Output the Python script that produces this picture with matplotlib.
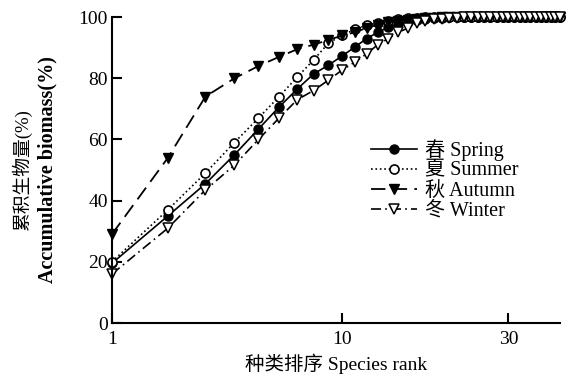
import matplotlib
matplotlib.use("Agg")
import matplotlib.pyplot as plt
import numpy as np

plt.rcParams['font.family'] = ['Liberation Serif', 'Noto Sans CJK SC']

ranks = list(range(1, 41))

spring = [19.5, 35, 45.5, 55, 63.4, 70.6, 76.5, 81.4, 84.3, 87.3,
          90.2, 93, 95, 96.7, 97.8, 98.5, 99, 99.4, 99.6, 99.8,
          99.9, 100, 100, 100, 100, 100, 100, 100, 100, 100,
          100, 100, 100, 100, 100, 100, 100, 100, 100, 100]
summer = [20, 37, 49, 59, 67, 74, 80.4, 86, 91.5, 94,
          96, 97.3, 98.2, 98.8, 99.3, 99.6, 99.8, 99.9, 100, 100,
          100, 100, 100, 100, 100, 100, 100, 100, 100, 100,
          100, 100, 100, 100, 100, 100, 100, 100, 100, 100]
autumn = [29, 54, 74, 80, 84, 87, 89.5, 91, 92.5, 94,
          95, 96.5, 97.5, 98.3, 98.8, 99.2, 99.5, 99.7, 99.8, 99.9,
          100, 100, 100, 100, 100, 100, 100, 100, 100, 100,
          100, 100, 100, 100, 100, 100, 100, 100, 100, 100]
winter = [16, 31, 43.5, 51.6, 60, 67, 73, 76, 79.4, 82.7,
          85.3, 88, 91, 93, 95, 96.4, 98, 98.7, 99.3, 99.5,
          99.7, 99.8, 99.9, 100, 100, 100, 100, 100, 100, 100,
          100, 100, 100, 100, 100, 100, 100, 100, 100, 100]

labels = ['春 Spring', '夏 Summer', '秋 Autumn', '冬 Winter']
xticks = [1, 10, 30]
yticks = [0, 20, 40, 60, 80, 100]

fig = plt.figure(figsize=(5.68, 3.80), dpi=100)
ax = fig.add_axes([0.197, 0.150, 0.789, 0.805])

# x axis is drawn on a fourth-root scale
ax.set_xscale('function', functions=(lambda x: np.power(np.clip(x, 0, None), 0.25),
                                     lambda x: np.power(x, 4)))

ms = 6.5
ax.plot(ranks, spring, '-', color='black', lw=1.2, marker='o', ms=ms,
        mfc='black', mec='black', label=labels[0], clip_on=False)
ax.plot(ranks, summer, ':', color='black', lw=1.2, marker='o', ms=ms,
        mfc='white', mec='black', mew=1.2, label=labels[1], clip_on=False)
ax.plot(ranks, autumn, color='black', lw=1.3, dashes=(8, 4), marker='v', ms=ms + 0.5,
        mfc='black', mec='black', label=labels[2], clip_on=False)
ax.plot(ranks, winter, color='black', lw=1.2, dashes=(6, 2.5, 1, 2.5), marker='v', ms=ms,
        mfc='white', mec='black', mew=1.1, label=labels[3], clip_on=False)

ax.set_xlim(1, 40)
ax.set_ylim(0, 100)
ax.set_xticks(xticks)
ax.set_xticklabels([str(t) for t in xticks])
ax.set_yticks(yticks)
ax.minorticks_off()
ax.tick_params(direction='in', length=7, width=1.5, labelsize=14, pad=3)
ax.tick_params(axis='x', pad=6)

for s in ['top', 'right']:
    ax.spines[s].set_visible(False)
for s in ['left', 'bottom']:
    ax.spines[s].set_linewidth(1.5)

ax.set_xlabel('种类排序 Species rank', fontsize=14, labelpad=4)
fig.text(0.038, 0.553, '累积生物量(%)', rotation=90, fontsize=13.5, ha='center', va='center')
fig.text(0.083, 0.553, 'Accumulative biomass(%)', rotation=90, fontsize=14.5,
         fontweight='bold', ha='center', va='center')

leg = ax.legend(loc='upper left', bbox_to_anchor=(0.555, 0.635), frameon=False,
                fontsize=14.5, handlelength=2.3, handletextpad=0.4, labelspacing=0.05,
                borderpad=0)

fig.savefig('out.png', dpi=100)
